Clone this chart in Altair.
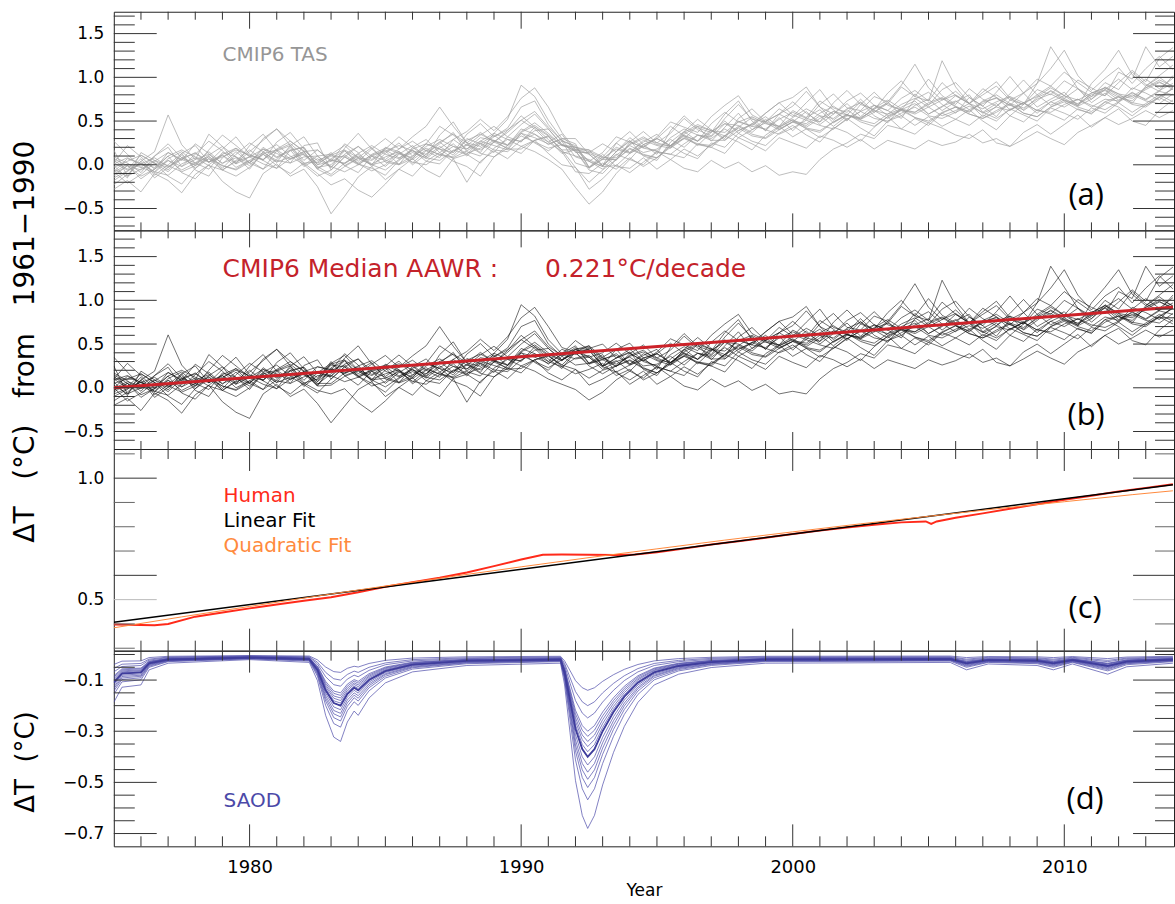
import altair as alt
import pandas as pd

# ---------------------------------------------------------------- data
# half-year sampling of the ensemble panels (a) and (b)
HALF_YEARS = [1975.0 + 0.5 * i for i in range(79)]

# ensemble centre
TAS_ENSEMBLE_MEAN = [
    -0.03, -0.03, -0.01, 0.00, 0.02, 0.03, 0.04, 0.05, 0.06, 0.07,
    0.07, 0.10, 0.11, 0.12, 0.10, 0.05, 0.02, 0.04, 0.06, 0.08,
    0.08, 0.10, 0.12, 0.14, 0.16, 0.19, 0.20, 0.22, 0.24, 0.27,
    0.31, 0.33, 0.31, 0.25, 0.12, 0.02, 0.04, 0.10, 0.16, 0.18,
    0.20, 0.24, 0.28, 0.32, 0.35, 0.38, 0.41, 0.42, 0.44, 0.46,
    0.47, 0.49, 0.51, 0.53, 0.55, 0.57, 0.58, 0.60, 0.61, 0.63,
    0.63, 0.64, 0.64, 0.65, 0.65, 0.65, 0.66, 0.67, 0.68, 0.70,
    0.71, 0.72, 0.73, 0.74, 0.76, 0.78, 0.80, 0.82, 0.84,
]

# each model's departure from that centre
TAS_MEMBER_ANOMALY = {
    "m01": [0.12, 0.05, -0.08, 0.10, 0.18, -0.05, 0.08, 0.22, 0.10, -0.06,
            0.15, 0.25, 0.05, -0.10, 0.12, 0.20, -0.08, 0.05, 0.15, -0.02,
            0.10, 0.22, 0.08, -0.05, 0.18, 0.30, 0.05, -0.08, 0.12, 0.25,
            0.60, 0.45, 0.20, 0.05, 0.18, 0.10, -0.05, 0.15, 0.22, 0.05,
            -0.08, 0.15, 0.28, 0.10, 0.02, 0.20, 0.32, 0.08, -0.05, 0.12,
            0.25, 0.10, -0.02, 0.18, 0.30, 0.12, 0.05, 0.22, 0.35, 0.15,
            0.10, 0.55, 0.25, 0.05, 0.18, 0.30, 0.10, 0.02, 0.25, 0.40,
            0.60, 0.30, 0.12, 0.25, 0.35, 0.15, 0.30, 0.42, 0.25],
    "m02": [-0.15, -0.05, 0.08, -0.12, -0.02, 0.10, -0.10, -0.18, 0.02, 0.12,
            -0.05, -0.15, 0.05, 0.10, -0.08, -0.02, 0.12, -0.05, -0.15, 0.02,
            0.08, -0.10, -0.05, 0.10, 0.02, -0.12, -0.08, 0.05, -0.02, -0.10,
            0.05, -0.08, -0.15, 0.02, -0.10, -0.05, 0.08, -0.12, -0.20, -0.10,
            -0.25, -0.18, -0.32, -0.40, -0.30, -0.42, -0.38, -0.50, -0.45, -0.58,
            -0.55, -0.60, -0.45, -0.35, -0.30, -0.22, -0.28, -0.15, -0.20, -0.10,
            -0.18, -0.05, -0.12, -0.20, -0.08, -0.15, -0.02, -0.10, -0.18, -0.05,
            -0.12, -0.20, -0.08, -0.15, -0.05, -0.18, -0.10, -0.02, -0.12],
    "m03": [-0.05, 0.10, 0.02, -0.08, 0.05, 0.12, -0.02, -0.10, 0.08, 0.02,
            -0.12, 0.05, 0.12, -0.02, -0.10, 0.05, 0.10, -0.05, 0.02, 0.12,
            -0.05, -0.10, 0.08, 0.15, -0.02, 0.05, -0.10, 0.02, 0.10, -0.05,
            0.10, 0.02, -0.08, 0.05, 0.12, -0.05, 0.02, 0.10, -0.02, 0.08,
            0.15, -0.05, 0.02, 0.12, -0.08, 0.05, 0.18, -0.02, 0.08, -0.05,
            0.02, 0.12, -0.05, 0.05, 0.15, -0.02, 0.10, 0.02, -0.08, 0.12,
            0.20, 0.05, -0.05, 0.12, 0.02, -0.10, 0.08, 0.15, -0.02, 0.05,
            0.12, -0.05, 0.02, 0.15, 0.05, -0.08, 0.10, 0.18, 0.05],
    "m04": [0.20, -0.10, 0.05, 0.15, 0.55, 0.20, 0.02, 0.30, 0.15, -0.05,
            0.08, 0.18, 0.30, 0.10, -0.05, 0.12, 0.02, 0.20, 0.08, -0.10,
            0.05, 0.15, -0.02, 0.10, 0.28, 0.15, 0.02, 0.12, 0.20, 0.05,
            0.15, 0.25, 0.10, -0.02, 0.08, 0.15, 0.05, -0.05, 0.10, 0.20,
            0.05, 0.12, 0.25, 0.08, -0.02, 0.15, 0.28, 0.10, 0.05, 0.18,
            0.08, 0.22, 0.35, 0.12, 0.05, 0.18, 0.02, 0.10, 0.28, 0.15,
            0.35, 0.15, 0.05, 0.22, 0.10, 0.02, 0.15, 0.30, 0.12, 0.20,
            0.08, 0.25, 0.15, 0.05, 0.30, 0.20, 0.55, 0.30, 0.40],
    "m05": [-0.25, -0.15, -0.30, -0.10, -0.20, -0.35, -0.15, -0.05, -0.25, -0.38,
            -0.45, -0.20, -0.10, -0.25, -0.15, -0.30, -0.58, -0.40, -0.20, -0.10,
            -0.25, -0.15, -0.05, -0.20, -0.30, -0.12, -0.40, -0.18, -0.08, -0.20,
            -0.10, -0.05, -0.18, -0.25, -0.15, -0.30, -0.20, -0.10, -0.25, -0.15,
            -0.05, -0.18, -0.10, -0.22, -0.12, -0.05, -0.15, -0.25, -0.10, -0.02,
            -0.15, -0.08, -0.20, -0.12, -0.02, -0.15, -0.25, -0.10, -0.05, -0.18,
            -0.08, -0.20, -0.12, -0.02, -0.15, -0.25, -0.10, -0.18, -0.05, -0.12,
            -0.20, -0.08, -0.15, -0.02, -0.10, -0.22, -0.12, -0.05, -0.15],
    "m06": [0.05, 0.25, 0.10, -0.05, 0.12, 0.02, 0.20, 0.08, -0.10, 0.05,
            0.18, 0.05, -0.08, 0.10, 0.22, 0.05, -0.05, 0.15, 0.30, 0.10,
            -0.02, 0.08, 0.20, 0.30, 0.50, 0.25, 0.05, 0.15, 0.02, 0.10,
            0.20, 0.08, -0.05, 0.10, 0.02, 0.12, 0.20, 0.05, 0.15, 0.02,
            0.10, 0.20, 0.05, -0.05, 0.12, 0.22, 0.08, 0.02, 0.15, 0.25,
            0.10, 0.02, 0.18, 0.28, 0.10, 0.05, 0.20, 0.12, 0.30, 0.52,
            0.25, 0.10, 0.20, 0.05, 0.15, 0.25, 0.08, 0.02, 0.18, 0.10,
            0.25, 0.15, 0.02, 0.12, 0.22, 0.08, 0.18, 0.05, 0.15],
    "m07": [-0.10, 0.02, -0.15, -0.05, 0.08, -0.12, -0.20, -0.05, 0.05, -0.10,
            -0.02, -0.15, -0.05, 0.08, -0.10, -0.18, -0.08, 0.05, -0.05, -0.12,
            -0.20, -0.05, 0.05, -0.10, -0.15, -0.02, -0.08, -0.20, -0.05, 0.02,
            -0.10, -0.18, -0.25, -0.30, -0.38, -0.47, -0.35, -0.20, -0.10, -0.18,
            -0.05, -0.12, -0.20, -0.08, -0.15, -0.25, -0.10, -0.18, -0.28, -0.15,
            -0.22, -0.30, -0.18, -0.25, -0.35, -0.28, -0.40, -0.32, -0.38, -0.45,
            -0.35, -0.42, -0.38, -0.30, -0.40, -0.35, -0.45, -0.38, -0.30, -0.40,
            -0.48, -0.35, -0.28, -0.20, -0.30, -0.25, -0.18, -0.28, -0.22],
    "m08": [0.02, -0.12, 0.15, 0.05, -0.08, 0.10, 0.18, -0.02, 0.12, 0.25,
            0.05, -0.05, 0.15, 0.25, 0.08, -0.05, 0.10, 0.18, 0.02, -0.08,
            0.12, 0.05, -0.10, 0.02, 0.10, -0.05, 0.15, 0.25, 0.08, 0.15,
            0.35, 0.40, 0.15, 0.02, 0.10, -0.05, 0.05, 0.15, -0.02, 0.10,
            0.02, -0.05, 0.10, 0.20, 0.05, -0.08, 0.12, 0.22, 0.05, -0.02,
            0.15, 0.05, 0.22, 0.10, -0.05, 0.12, 0.25, 0.08, 0.02, 0.18,
            0.05, 0.22, 0.30, 0.12, 0.02, 0.18, 0.35, 0.15, 0.25, 0.65,
            0.40, 0.15, 0.05, 0.20, 0.10, 0.28, 0.12, 0.02, 0.18],
    "m09": [-0.20, -0.08, 0.05, -0.15, -0.05, 0.08, -0.08, 0.05, -0.12, -0.02,
            0.10, -0.05, -0.15, 0.05, 0.10, -0.08, -0.02, 0.12, -0.05, -0.15,
            -0.08, 0.05, -0.12, -0.02, 0.08, 0.18, -0.05, -0.12, 0.02, 0.12,
            0.25, 0.10, -0.02, -0.12, 0.05, 0.15, -0.05, 0.05, 0.12, -0.08,
            -0.15, 0.02, 0.10, -0.05, 0.05, -0.10, 0.02, 0.12, -0.05, 0.08,
            -0.08, 0.05, 0.12, -0.05, 0.02, 0.15, -0.02, -0.12, 0.05, 0.10,
            -0.05, 0.02, 0.15, 0.05, -0.10, 0.02, 0.12, -0.05, 0.05, 0.15,
            0.05, -0.05, 0.20, 0.35, 0.55, 0.25, 0.10, 0.20, 0.30],
    "m10": [0.30, 0.15, -0.02, 0.10, 0.22, 0.05, -0.05, 0.12, 0.28, 0.15,
            0.02, 0.20, 0.30, 0.15, 0.05, -0.10, 0.05, 0.12, -0.02, 0.10,
            0.22, 0.08, 0.15, 0.02, -0.08, 0.10, 0.18, 0.30, 0.15, 0.28,
            0.45, 0.55, 0.35, 0.12, 0.05, 0.02, 0.10, 0.22, 0.10, 0.02,
            0.12, 0.25, 0.15, 0.05, 0.20, 0.30, 0.38, 0.15, 0.05, 0.12,
            0.20, 0.35, 0.15, 0.05, 0.18, 0.25, 0.10, 0.02, 0.15, 0.22,
            0.10, 0.30, 0.15, 0.05, 0.22, 0.12, 0.02, 0.15, 0.30, 0.20,
            0.35, 0.22, 0.10, 0.05, 0.18, 0.30, 0.15, 0.40, 0.50],
    "m11": [-0.05, -0.18, -0.10, 0.02, -0.15, -0.25, -0.08, 0.02, -0.12, -0.20,
            -0.10, 0.02, -0.12, -0.22, -0.08, -0.15, -0.25, -0.20, -0.35, -0.45,
            -0.30, -0.15, -0.25, -0.10, -0.02, -0.15, -0.22, -0.35, -0.15, -0.08,
            -0.18, -0.05, 0.02, -0.10, -0.20, -0.12, -0.02, -0.15, -0.08, -0.20,
            -0.12, -0.02, -0.15, -0.25, -0.10, -0.18, -0.05, -0.15, -0.22, -0.10,
            -0.02, -0.15, -0.25, -0.10, -0.18, -0.30, -0.15, -0.05, -0.20, -0.28,
            -0.15, -0.22, -0.30, -0.35, -0.25, -0.40, -0.45, -0.30, -0.22, -0.35,
            -0.25, -0.15, -0.30, -0.20, -0.12, -0.28, -0.35, -0.20, -0.10],
    "m12": [0.08, -0.02, 0.12, 0.02, -0.10, 0.05, -0.02, 0.10, -0.05, 0.08,
            -0.05, 0.10, -0.02, 0.05, -0.12, 0.02, -0.05, 0.08, 0.15, 0.02,
            -0.10, 0.02, 0.10, -0.05, 0.05, -0.08, 0.10, 0.02, -0.10, 0.05,
            -0.05, 0.10, 0.02, -0.08, 0.05, 0.10, -0.05, 0.02, -0.10, 0.05,
            0.10, -0.02, 0.05, -0.10, 0.02, 0.12, -0.05, 0.05, 0.15, 0.25,
            0.30, 0.40, 0.15, -0.02, 0.08, -0.05, 0.02, 0.12, -0.05, 0.05,
            0.12, -0.02, 0.08, 0.15, -0.05, 0.05, -0.10, 0.02, 0.12, -0.02,
            0.05, 0.15, -0.02, 0.08, -0.05, 0.10, 0.02, -0.08, 0.05],
    "m13": [0.05, -0.03, 0.02, 0.08, -0.04, 0.03, 0.10, -0.02, 0.05, -0.06,
            0.02, 0.08, -0.03, 0.04, 0.10, -0.05, 0.02, 0.07, -0.04, 0.03,
            0.09, -0.02, 0.04, -0.07, 0.03, 0.10, -0.02, 0.05, 0.12, 0.02,
            -0.04, 0.06, 0.10, -0.02, 0.04, -0.06, 0.03, 0.08, -0.03, 0.05,
            0.10, -0.02, 0.06, -0.05, 0.03, 0.09, -0.02, 0.04, 0.11, -0.03,
            0.05, -0.06, 0.02, 0.08, -0.03, 0.04, 0.10, -0.04, 0.02, 0.07,
            -0.05, 0.03, 0.09, -0.02, 0.05, 0.12, -0.03, 0.04, -0.06, 0.02,
            0.08, -0.03, 0.05, 0.11, -0.02, 0.04, -0.05, 0.03, 0.09],
    "m14": [-0.06, 0.04, -0.02, -0.09, 0.03, -0.05, 0.02, 0.07, -0.04, 0.01,
            -0.08, 0.03, 0.06, -0.05, 0.02, -0.09, 0.04, -0.03, 0.06, -0.07,
            0.01, 0.05, -0.06, 0.03, -0.04, -0.10, 0.03, -0.05, 0.02, -0.08,
            0.05, -0.02, -0.07, 0.04, -0.03, 0.02, -0.09, 0.01, 0.06, -0.04,
            -0.02, 0.05, -0.08, 0.02, -0.05, 0.03, -0.10, -0.02, 0.04, -0.06,
            0.02, -0.04, 0.05, -0.09, 0.01, -0.03, 0.04, -0.07, 0.02, -0.05,
            0.03, -0.08, -0.02, 0.05, -0.06, 0.01, -0.04, 0.04, -0.09, 0.02,
            -0.05, 0.03, -0.07, 0.01, -0.03, 0.05, -0.06, 0.02, -0.04],
    "m15": [0.10, 0.02, -0.05, 0.04, 0.12, 0.03, -0.04, 0.06, 0.15, 0.02,
            -0.05, 0.08, 0.02, -0.06, 0.05, 0.12, 0.03, -0.02, 0.07, 0.14,
            0.04, -0.03, 0.06, 0.10, 0.02, -0.05, 0.08, 0.13, 0.03, -0.04,
            0.07, 0.15, 0.05, -0.03, 0.06, 0.11, 0.02, -0.04, 0.08, 0.14,
            0.03, -0.02, 0.07, 0.12, 0.04, -0.05, 0.09, 0.02, -0.03, 0.06,
            0.13, 0.04, -0.02, 0.08, 0.02, -0.05, 0.07, 0.14, 0.03, -0.03,
            0.06, 0.12, 0.02, -0.04, 0.08, 0.15, 0.04, -0.02, 0.07, 0.11,
            0.02, -0.04, 0.09, 0.14, 0.03, -0.02, 0.06, 0.12, 0.04],
    "m16": [-0.12, -0.04, 0.03, -0.08, -0.14, -0.02, 0.04, -0.06, -0.12, -0.03,
            0.02, -0.09, -0.15, -0.05, 0.03, -0.07, -0.13, -0.02, 0.04, -0.08,
            -0.14, -0.04, 0.02, -0.06, -0.11, -0.03, 0.03, -0.09, -0.15, -0.05,
            0.02, -0.07, -0.12, -0.02, 0.04, -0.08, -0.14, -0.04, 0.03, -0.06,
            -0.12, -0.02, 0.02, -0.09, -0.15, -0.05, 0.03, -0.07, -0.13, -0.03,
            0.04, -0.08, -0.14, -0.04, 0.02, -0.06, -0.11, -0.02, 0.03, -0.09,
            -0.15, -0.05, 0.02, -0.07, -0.12, -0.03, 0.04, -0.08, -0.13, -0.04,
            0.03, -0.06, -0.12, -0.02, 0.02, -0.09, -0.14, -0.05, 0.03],
    "m17": [0.00, 0.07, 0.12, 0.02, -0.05, 0.05, 0.09, -0.02, 0.03, 0.10,
            0.04, -0.04, 0.06, 0.12, 0.01, -0.03, 0.08, 0.05, -0.06, 0.04,
            0.11, 0.03, -0.04, 0.07, 0.13, 0.02, -0.02, 0.09, 0.04, -0.05,
            0.06, 0.12, 0.03, -0.03, 0.08, 0.02, -0.06, 0.05, 0.11, 0.01,
            -0.04, 0.07, 0.13, 0.02, -0.03, 0.09, 0.04, -0.05, 0.06, 0.12,
            0.03, -0.02, 0.08, 0.14, 0.02, -0.04, 0.06, 0.10, 0.01, -0.03,
            0.08, 0.13, 0.03, -0.05, 0.07, 0.11, 0.02, -0.04, 0.09, 0.14,
            0.03, -0.02, 0.07, 0.12, 0.01, -0.05, 0.08, 0.13, 0.02],
    "m18": [-0.02, -0.10, -0.04, 0.05, -0.03, -0.11, -0.05, 0.02, -0.07, -0.12,
            -0.02, 0.04, -0.06, -0.10, -0.01, 0.05, -0.04, -0.12, -0.06, 0.02,
            -0.03, -0.09, -0.02, 0.05, -0.05, -0.11, -0.04, 0.03, -0.07, -0.12,
            -0.03, 0.02, -0.05, -0.10, -0.02, 0.04, -0.06, -0.11, -0.03, 0.03,
            -0.05, -0.12, -0.04, 0.02, -0.07, -0.10, -0.02, 0.05, -0.04, -0.11,
            -0.05, 0.02, -0.06, -0.12, -0.03, 0.04, -0.05, -0.10, -0.02, 0.03,
            -0.07, -0.11, -0.04, 0.02, -0.05, -0.12, -0.03, 0.04, -0.06, -0.10,
            -0.02, 0.03, -0.05, -0.11, -0.04, 0.02, -0.07, -0.12, -0.03],
    "m19": [0.04, 0.11, 0.02, -0.03, 0.08, 0.14, 0.05, -0.02, 0.06, 0.12,
            0.03, -0.04, 0.07, 0.15, 0.06, 0.00, 0.09, 0.13, 0.02, -0.03,
            0.07, 0.12, 0.04, -0.02, 0.10, 0.16, 0.05, -0.01, 0.08, 0.13,
            0.20, 0.28, 0.12, 0.03, 0.08, 0.13, 0.04, -0.02, 0.07, 0.12,
            0.05, -0.03, 0.09, 0.14, 0.04, -0.01, 0.08, 0.13, 0.03, -0.02,
            0.07, 0.15, 0.05, 0.00, 0.09, 0.14, 0.04, -0.02, 0.08, 0.13,
            0.03, 0.10, 0.16, 0.05, -0.01, 0.07, 0.12, 0.04, 0.10, 0.18,
            0.08, 0.02, 0.09, 0.14, 0.05, 0.00, 0.08, 0.15, 0.06],
    "m20": [-0.08, 0.02, -0.12, -0.05, 0.03, -0.09, -0.02, 0.04, -0.07, -0.13,
            -0.04, 0.02, -0.08, -0.03, 0.05, -0.10, -0.15, -0.06, 0.01, -0.08,
            -0.04, 0.03, -0.09, -0.14, -0.05, 0.02, -0.07, -0.03, 0.04, -0.09,
            -0.13, -0.05, 0.01, -0.08, -0.15, -0.22, -0.10, -0.04, 0.02, -0.07,
            -0.12, -0.04, 0.03, -0.08, -0.13, -0.05, 0.01, -0.09, -0.14, -0.06,
            0.02, -0.07, -0.12, -0.04, 0.03, -0.08, -0.14, -0.05, 0.01, -0.09,
            -0.13, -0.04, 0.02, -0.07, -0.12, -0.05, 0.03, -0.08, -0.13, -0.04,
            0.01, -0.09, -0.14, -0.05, 0.02, -0.07, -0.12, -0.04, 0.03],
}

# volcanic (SAOD) response taken out for panel (b), read as (b) minus (a)
VOLCANIC_RESPONSE_REMOVED = [
    0.08, 0.06, 0.05, 0.04, 0.035, 0.03, 0.03, 0.03, 0.03, 0.03,
    0.03, 0.03, 0.03, 0.03, 0.035, 0.07, 0.16, 0.15, 0.12, 0.09,
    0.07, 0.055, 0.045, 0.04, 0.04, 0.035, 0.035, 0.035, 0.035, 0.035,
    0.04, 0.04, 0.04, 0.09, 0.24, 0.31, 0.26, 0.19, 0.13, 0.11,
    0.09, 0.07, 0.06, 0.055, 0.05, 0.05, 0.05, 0.05, 0.05, 0.05,
    0.04, 0.04, 0.04, 0.04, 0.04, 0.04, 0.04, 0.04, 0.04, 0.04,
    0.04, 0.04, 0.05, 0.04, 0.04, 0.04, 0.04, 0.04, 0.04, 0.04,
    0.04, 0.04, 0.04, 0.06, 0.04, 0.04, 0.04, 0.04, 0.04,
]

TREND_YEARS = [1975.0, 2014.0]
TREND_VALUES = [0.0, 0.92]

HUMAN_YEARS = [1975.0, 1976.0, 1976.5, 1977.0, 1978.0, 1979.0, 1980.0, 1981.0, 1982.0, 1983.0,
               1984.0, 1985.0, 1986.0, 1987.0, 1988.0, 1989.0, 1990.0, 1990.8, 1991.5, 1992.5,
               1993.5, 1994.2, 1995.0, 1996.0, 1997.0, 1998.0, 1999.0, 2000.0, 2001.0, 2002.0,
               2003.0, 2004.0, 2004.9, 2005.1, 2005.3, 2006.0, 2007.0, 2008.0, 2009.0, 2010.0,
               2011.0, 2012.0, 2013.0, 2014.0]
HUMAN_VALUES = [0.398, 0.396, 0.395, 0.40, 0.43, 0.447, 0.464, 0.48, 0.495, 0.51,
                0.53, 0.553, 0.572, 0.59, 0.612, 0.638, 0.665, 0.685, 0.686, 0.685,
                0.684, 0.686, 0.695, 0.71, 0.727, 0.74, 0.755, 0.77, 0.785, 0.797,
                0.808, 0.818, 0.822, 0.812, 0.822, 0.837, 0.855, 0.874, 0.893, 0.911,
                0.928, 0.945, 0.96, 0.975]
LINEAR_YEARS = [1975.0, 2014.0]
LINEAR_VALUES = [0.407, 0.973]
QUAD_YEARS = [1975.0, 1977.5, 1980.0, 1982.5, 1985.0, 1987.5, 1990.0, 1992.5, 1995.0,
              1997.5, 2000.0, 2002.5, 2005.0, 2007.5, 2010.0, 2012.5, 2014.0]
QUAD_VALUES = [0.384, 0.429, 0.472, 0.515, 0.556, 0.596, 0.635, 0.673, 0.709,
               0.745, 0.779, 0.812, 0.843, 0.874, 0.903, 0.932, 0.948]

SAOD_YEARS = [1975.0, 1975.3, 1976.0, 1976.3, 1977.0, 1980.0, 1982.2, 1982.5, 1982.8, 1983.1,
              1983.35, 1983.6, 1983.85, 1984.0, 1984.4, 1985.0, 1986.0, 1988.0, 1991.45, 1991.6,
              1991.8, 1992.0, 1992.25, 1992.45, 1992.7, 1993.0, 1993.4, 1993.8, 1994.3, 1994.9,
              1995.8, 1997.0, 1999.0, 2005.8, 2006.4, 2007.2, 2009.0, 2009.6, 2010.3, 2011.6,
              2012.3, 2014.0]
SAOD_MEMBERS = {
    "s01": [-0.039, -0.026, -0.025, -0.012, -0.007, -0.004, -0.006, -0.021, -0.049, -0.067,
            -0.07, -0.054, -0.046, -0.049, -0.035, -0.023, -0.014, -0.009, -0.007, -0.025,
            -0.063, -0.102, -0.13, -0.14, -0.13, -0.105, -0.079, -0.058, -0.039, -0.025,
            -0.016, -0.011, -0.007, -0.006, -0.012, -0.008, -0.009, -0.012, -0.008, -0.016,
            -0.01, -0.007],
    "s02": [-0.055, -0.038, -0.035, -0.018, -0.01, -0.006, -0.009, -0.03, -0.07, -0.095,
            -0.10, -0.078, -0.065, -0.07, -0.05, -0.033, -0.02, -0.013, -0.01, -0.035,
            -0.09, -0.145, -0.185, -0.20, -0.185, -0.15, -0.113, -0.083, -0.055, -0.035,
            -0.023, -0.015, -0.01, -0.009, -0.018, -0.011, -0.013, -0.018, -0.011, -0.023,
            -0.014, -0.01],
    "s03": [-0.068, -0.047, -0.043, -0.022, -0.012, -0.007, -0.011, -0.037, -0.087, -0.118,
            -0.124, -0.096, -0.081, -0.087, -0.062, -0.04, -0.025, -0.016, -0.012, -0.043,
            -0.112, -0.18, -0.229, -0.248, -0.229, -0.186, -0.14, -0.102, -0.068, -0.043,
            -0.028, -0.019, -0.012, -0.011, -0.022, -0.014, -0.016, -0.022, -0.014, -0.028,
            -0.017, -0.012],
    "s04": [-0.083, -0.056, -0.053, -0.026, -0.015, -0.009, -0.014, -0.045, -0.105, -0.143,
            -0.15, -0.116, -0.098, -0.105, -0.075, -0.049, -0.03, -0.019, -0.015, -0.053,
            -0.135, -0.218, -0.278, -0.30, -0.278, -0.225, -0.169, -0.124, -0.083, -0.053,
            -0.034, -0.023, -0.015, -0.014, -0.026, -0.017, -0.019, -0.026, -0.017, -0.034,
            -0.021, -0.015],
    "s05": [-0.088, -0.06, -0.056, -0.028, -0.016, -0.01, -0.014, -0.048, -0.112, -0.152,
            -0.16, -0.124, -0.104, -0.112, -0.08, -0.052, -0.032, -0.02, -0.016, -0.056,
            -0.144, -0.232, -0.296, -0.32, -0.296, -0.24, -0.18, -0.132, -0.088, -0.056,
            -0.036, -0.024, -0.016, -0.014, -0.028, -0.018, -0.02, -0.028, -0.018, -0.036,
            -0.022, -0.016],
    "s06": [-0.094, -0.064, -0.06, -0.03, -0.017, -0.01, -0.015, -0.051, -0.119, -0.162,
            -0.17, -0.132, -0.111, -0.119, -0.085, -0.055, -0.034, -0.021, -0.017, -0.06,
            -0.153, -0.247, -0.315, -0.34, -0.315, -0.255, -0.191, -0.14, -0.094, -0.06,
            -0.038, -0.026, -0.017, -0.015, -0.03, -0.019, -0.021, -0.03, -0.019, -0.038,
            -0.024, -0.017],
    "s07": [-0.099, -0.068, -0.063, -0.032, -0.018, -0.011, -0.016, -0.054, -0.126, -0.171,
            -0.18, -0.14, -0.117, -0.126, -0.09, -0.059, -0.036, -0.023, -0.018, -0.063,
            -0.162, -0.261, -0.333, -0.36, -0.333, -0.27, -0.203, -0.149, -0.099, -0.063,
            -0.041, -0.027, -0.018, -0.016, -0.032, -0.02, -0.023, -0.032, -0.02, -0.041,
            -0.025, -0.018],
    "s08": [-0.105, -0.071, -0.067, -0.033, -0.019, -0.011, -0.017, -0.057, -0.133, -0.181,
            -0.19, -0.147, -0.124, -0.133, -0.095, -0.062, -0.038, -0.024, -0.019, -0.067,
            -0.171, -0.276, -0.352, -0.38, -0.352, -0.285, -0.214, -0.157, -0.105, -0.067,
            -0.043, -0.029, -0.019, -0.017, -0.033, -0.021, -0.024, -0.033, -0.021, -0.043,
            -0.027, -0.019],
    "s09": [-0.11, -0.075, -0.07, -0.035, -0.02, -0.012, -0.018, -0.06, -0.14, -0.19,
            -0.20, -0.155, -0.13, -0.14, -0.10, -0.065, -0.04, -0.025, -0.02, -0.07,
            -0.18, -0.29, -0.37, -0.40, -0.37, -0.30, -0.225, -0.165, -0.11, -0.07,
            -0.045, -0.03, -0.02, -0.018, -0.035, -0.022, -0.025, -0.035, -0.022, -0.045,
            -0.028, -0.02],
    "s10": [-0.119, -0.081, -0.076, -0.038, -0.022, -0.013, -0.019, -0.065, -0.151, -0.205,
            -0.216, -0.167, -0.14, -0.151, -0.108, -0.07, -0.043, -0.027, -0.022, -0.076,
            -0.194, -0.313, -0.40, -0.432, -0.40, -0.324, -0.243, -0.178, -0.119, -0.076,
            -0.049, -0.032, -0.022, -0.019, -0.038, -0.024, -0.027, -0.038, -0.024, -0.049,
            -0.03, -0.022],
    "s11": [-0.127, -0.086, -0.081, -0.04, -0.023, -0.014, -0.021, -0.069, -0.161, -0.219,
            -0.23, -0.178, -0.15, -0.161, -0.115, -0.075, -0.046, -0.029, -0.023, -0.081,
            -0.207, -0.334, -0.426, -0.46, -0.426, -0.345, -0.259, -0.19, -0.127, -0.081,
            -0.052, -0.035, -0.023, -0.021, -0.04, -0.025, -0.029, -0.04, -0.025, -0.052,
            -0.032, -0.023],
    "s12": [-0.134, -0.092, -0.085, -0.043, -0.024, -0.015, -0.022, -0.073, -0.171, -0.232,
            -0.244, -0.189, -0.159, -0.171, -0.122, -0.079, -0.049, -0.031, -0.024, -0.085,
            -0.22, -0.354, -0.451, -0.488, -0.451, -0.366, -0.275, -0.201, -0.134, -0.085,
            -0.055, -0.037, -0.024, -0.022, -0.043, -0.027, -0.031, -0.043, -0.027, -0.055,
            -0.034, -0.024],
    "s13": [-0.143, -0.098, -0.091, -0.046, -0.026, -0.016, -0.023, -0.078, -0.182, -0.247,
            -0.26, -0.202, -0.169, -0.182, -0.13, -0.085, -0.052, -0.033, -0.026, -0.091,
            -0.234, -0.377, -0.481, -0.52, -0.481, -0.39, -0.293, -0.215, -0.143, -0.091,
            -0.059, -0.039, -0.026, -0.023, -0.046, -0.029, -0.033, -0.046, -0.029, -0.059,
            -0.036, -0.026],
    "s14": [-0.156, -0.107, -0.099, -0.05, -0.028, -0.017, -0.026, -0.085, -0.199, -0.27,
            -0.284, -0.22, -0.185, -0.199, -0.142, -0.092, -0.057, -0.036, -0.028, -0.099,
            -0.256, -0.412, -0.525, -0.568, -0.525, -0.426, -0.32, -0.234, -0.156, -0.099,
            -0.064, -0.043, -0.028, -0.026, -0.05, -0.031, -0.036, -0.05, -0.031, -0.064,
            -0.04, -0.028],
    "s15": [-0.187, -0.128, -0.119, -0.06, -0.034, -0.02, -0.031, -0.102, -0.238, -0.323,
            -0.34, -0.264, -0.221, -0.238, -0.17, -0.111, -0.068, -0.043, -0.034, -0.119,
            -0.306, -0.493, -0.629, -0.68, -0.629, -0.51, -0.383, -0.281, -0.187, -0.119,
            -0.077, -0.051, -0.034, -0.031, -0.06, -0.037, -0.043, -0.06, -0.037, -0.077,
            -0.048, -0.034],
}
SAOD_BOLD_MEMBER = "s09"

# tick positions
YEAR_MINOR = [y for y in range(1976, 2014) if y % 10 != 0]
YEAR_MAJOR = [1980, 1990, 2000, 2010]
AB_MAJOR = [-0.5, 0.0, 0.5, 1.0, 1.5]
A_MINOR = [-0.7, -0.6, -0.4, -0.3, -0.2, -0.1, 0.1, 0.2, 0.3, 0.4, 0.6, 0.7, 0.8, 0.9,
           1.1, 1.2, 1.3, 1.4, 1.6, 1.7]
B_MINOR = [-0.6, -0.4, -0.3, -0.2, -0.1, 0.1, 0.2, 0.3, 0.4, 0.6, 0.7, 0.8, 0.9,
           1.1, 1.2, 1.3, 1.4, 1.6, 1.7]
C_LABELS = [0.5, 1.0]
C_MAJOR = [0.6, 1.0]
C_MAJOR_LIGHT = [0.5]
C_MINOR = [0.3, 0.4, 0.7, 0.8, 0.9, 1.1]
D_LABELS = [-0.7, -0.5, -0.3, -0.1]
D_MINOR = [0.0, -0.05, -0.15, -0.2, -0.25, -0.35, -0.4, -0.45, -0.55, -0.6, -0.65]

# ---------------------------------------------------------------- tables
rows = []
for m, dev in TAS_MEMBER_ANOMALY.items():
    for yr, mu, d, v in zip(HALF_YEARS, TAS_ENSEMBLE_MEAN, dev, VOLCANIC_RESPONSE_REMOVED):
        rows.append({"year": yr, "member": m, "val": mu + d, "val_nv": mu + d + v})
df_tas = pd.DataFrame(rows)

df_trend = pd.DataFrame({"year": TREND_YEARS, "val": TREND_VALUES})
df_c = pd.concat([
    pd.DataFrame({"year": HUMAN_YEARS, "val": HUMAN_VALUES, "s": "Human"}),
    pd.DataFrame({"year": LINEAR_YEARS, "val": LINEAR_VALUES, "s": "Linear Fit"}),
    pd.DataFrame({"year": QUAD_YEARS, "val": QUAD_VALUES, "s": "Quadratic Fit"}),
])
srows = []
for m, vals in SAOD_MEMBERS.items():
    for yr, v in zip(SAOD_YEARS, vals):
        srows.append({"year": yr, "member": m, "val": v})
df_saod = pd.DataFrame(srows)
df_saod_bold = df_saod[df_saod["member"] == SAOD_BOLD_MEMBER]

# ---------------------------------------------------------------- layout
W = 1062
HA, HB, HC, HD = 219, 219, 202, 196
XS = alt.Scale(domain=[1975.0, 2014.04], nice=False, zero=False)
YA = alt.Scale(domain=[-0.75, 1.75], nice=False, zero=False)
YB = alt.Scale(domain=[-0.7, 1.8], nice=False, zero=False)
YC = alt.Scale(domain=[0.29, 1.12], nice=False, zero=False)
YD = alt.Scale(domain=[-0.75, 0.015], nice=False, zero=False)
TICK = "#333333"
LAB = 17
NB = "\u00a0"


def yaxis(values, **kw):
    return alt.Axis(values=values, format=".1f", ticks=False, domain=False, grid=False,
                    labelFontSize=LAB, labelPadding=10, labelColor="black", **kw)


TITLE_KW = dict(titleFont="DejaVu Sans", titleFontWeight="normal",
                titleColor="black", titleAngle=270, titleX=-80, titleY=111,
                titleAlign="center", titleBaseline="alphabetic")
AX_A = yaxis(AB_MAJOR, title=None)
AX_B = yaxis(AB_MAJOR, title="ΔT" + NB * 3 + "(°C)" + NB * 3 + "from" + NB * 3 + "1961−1990",
             titleFontSize=28, **TITLE_KW)
AX_C = yaxis(C_LABELS, title=None)
AX_D = yaxis(D_LABELS, title="ΔT" + NB * 2 + "(°C)", titleFontSize=26, **TITLE_KW)
AX_X_BOTTOM = alt.Axis(values=YEAR_MAJOR, format="d", ticks=False, domain=False, grid=False,
                       labelFontSize=18, labelPadding=12, labelColor="black", title="Year",
                       titleFontSize=17, titleFont="DejaVu Sans", titleFontWeight="normal",
                       titleColor="black", titlePadding=6)


def yticks(vals, scale, axis, length, color=TICK):
    df = pd.DataFrame({"val": vals})
    left = alt.Chart(df).mark_rule(color=color, strokeWidth=1).encode(
        y=alt.Y("val:Q", scale=scale, axis=axis), x=alt.value(0), x2=alt.value(length))
    right = alt.Chart(df).mark_rule(color=color, strokeWidth=1).encode(
        y=alt.Y("val:Q", scale=scale, axis=axis), x=alt.value(W), x2=alt.value(W - length + 2))
    return [left, right]


def xticks(h, lmin, lmaj, xaxis):
    out = []
    for vals, ln in ((YEAR_MINOR, lmin), (YEAR_MAJOR, lmaj)):
        df = pd.DataFrame({"year": vals})
        out.append(alt.Chart(df).mark_rule(color=TICK, strokeWidth=1).encode(
            x=alt.X("year:Q", scale=XS, axis=xaxis), y=alt.value(0), y2=alt.value(ln)))
        out.append(alt.Chart(df).mark_rule(color=TICK, strokeWidth=1).encode(
            x=alt.X("year:Q", scale=XS, axis=xaxis), y=alt.value(h), y2=alt.value(h - ln)))
    return out


def label(text, x, y, size, color, font="DejaVu Sans", align="left"):
    return alt.Chart(pd.DataFrame({"t": [text]})).mark_text(
        align=align, baseline="middle", fontSize=size, font=font, color=color
    ).encode(text="t:N", x=alt.value(x), y=alt.value(y))


def yminmaj(minor, major, scale, axis):
    return yticks(minor, scale, axis, 21) + yticks(major, scale, axis, 43)


# ---- panel (a)
pa_lines = alt.Chart(df_tas).mark_line(strokeWidth=0.7, color="#a0a0a0", clip=True).encode(
    x=alt.X("year:Q", scale=XS, axis=None),
    y=alt.Y("val:Q", scale=YA, axis=AX_A),
    detail="member:N",
)
panel_a = alt.layer(
    pa_lines, *yminmaj(A_MINOR, AB_MAJOR, YA, AX_A), *xticks(HA, 8, 17, None),
    label("CMIP6 TAS", 109, 43, 20, "#969696"),
    label("(a)", 974, 185, 31, "black", font="Open Sans", align="center"),
).properties(width=W, height=HA)

# ---- panel (b)
pb_lines = alt.Chart(df_tas).mark_line(strokeWidth=0.6, color="#111111", clip=True).encode(
    x=alt.X("year:Q", scale=XS, axis=None),
    y=alt.Y("val_nv:Q", scale=YB, axis=AX_B),
    detail="member:N",
)
pb_trend = alt.Chart(df_trend).mark_line(strokeWidth=3, color="#cc2229", clip=True).encode(
    x=alt.X("year:Q", scale=XS, axis=None), y=alt.Y("val:Q", scale=YB, axis=AX_B))
panel_b = alt.layer(
    pb_lines, pb_trend, *yminmaj(B_MINOR, AB_MAJOR, YB, AX_B), *xticks(HB, 8, 17, None),
    label("CMIP6 Median AAWR :", 109, 39, 25, "#c4222a"),
    label("0.221°C/decade", 432, 39, 25, "#c4222a"),
    label("(b)", 974, 186, 31, "black", font="Open Sans", align="center"),
).properties(width=W, height=HB)

# ---- panel (c)
SERIES = ["Human", "Linear Fit", "Quadratic Fit"]
pc_lines = alt.Chart(df_c).mark_line(clip=True).encode(
    x=alt.X("year:Q", scale=XS, axis=None),
    y=alt.Y("val:Q", scale=YC, axis=AX_C),
    color=alt.Color("s:N", scale=alt.Scale(domain=SERIES,
                                            range=["#ff2a1a", "#000000", "#ff8a3d"]), legend=None),
    strokeWidth=alt.StrokeWidth("s:N", scale=alt.Scale(domain=SERIES, range=[2.0, 1.0, 1.2]),
                                legend=None),
    order=alt.Order("s:N", sort="descending"),
)
panel_c = alt.layer(
    pc_lines, *yticks(C_MINOR, YC, AX_C, 21, "#666666"), *yticks(C_MAJOR, YC, AX_C, 43),
    *yticks(C_MAJOR_LIGHT, YC, AX_C, 43, "#bbbbbb"), *xticks(HC, 10, 22, None),
    label("Human", 110, 47, 20, "#ff2a1a"),
    label("Linear Fit", 110, 72, 20, "black"),
    label("Quadratic Fit", 110, 97, 20, "#ff8a3d"),
    label("(c)", 973, 160, 31, "black", font="Open Sans", align="center"),
).properties(width=W, height=HC)

# ---- panel (d)
pd_lines = alt.Chart(df_saod).mark_line(strokeWidth=0.7, color="#4b49a8", clip=True).encode(
    x=alt.X("year:Q", scale=XS, axis=AX_X_BOTTOM),
    y=alt.Y("val:Q", scale=YD, axis=AX_D),
    detail="member:N",
)
pd_bold = alt.Chart(df_saod_bold).mark_line(strokeWidth=1.8, color="#3f3d9c", clip=True).encode(
    x=alt.X("year:Q", scale=XS, axis=AX_X_BOTTOM),
    y=alt.Y("val:Q", scale=YD, axis=AX_D),
)
panel_d = alt.layer(
    pd_lines, pd_bold, *yminmaj(D_MINOR, D_LABELS, YD, AX_D), *xticks(HD, 10, 22, AX_X_BOTTOM),
    label("SAOD", 110, 151, 20, "#4b49a8"),
    label("(d)", 973, 150, 31, "black", font="Open Sans", align="center"),
).properties(width=W, height=HD)

chart = alt.vconcat(panel_a, panel_b, panel_c, panel_d, spacing=0, bounds="flush").properties(
    padding={"left": 11, "top": 10, "right": 0, "bottom": 0},
    background="white",
).configure_view(stroke="#222222", strokeWidth=1).configure_axis(
    labelFont="DejaVu Sans")

chart.save("out.html", embed_options={"renderer": "svg", "actions": False})
